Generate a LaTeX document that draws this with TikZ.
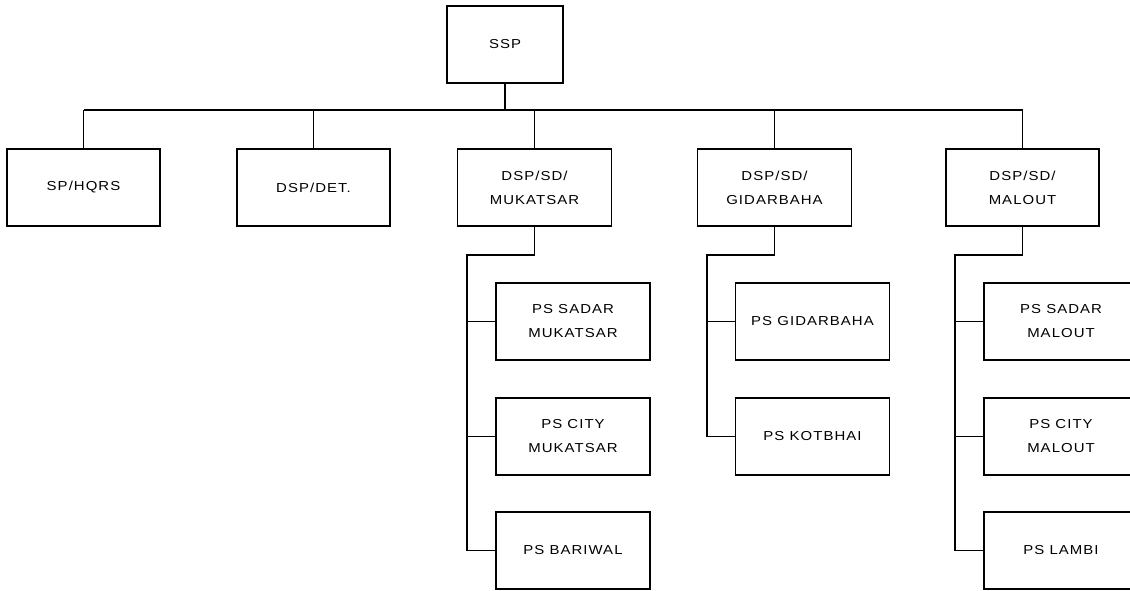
\documentclass[tikz,border=0pt]{standalone}
\usepackage{fontspec}
\setmainfont{Liberation Sans}[FakeStretch=1.15,LetterSpace=8]
\begin{document}
\begin{tikzpicture}[x=1pt,y=-1pt,
  box/.style={draw=black,line width=1.1pt,rectangle,minimum width=154pt,minimum height=77pt,
    align=center,inner sep=0pt,font=\fontsize{13}{24}\selectfont,text=black},
  conn/.style={draw=black,line width=1.1pt}]
\useasboundingbox (0,0) rectangle (1130,591);
\clip (0,0) rectangle (1130,591);
\node[box,minimum width=116pt] (ssp) at (505,44.5) {SSP};
\node[box,minimum width=153pt] (hq) at (83.5,187.5) {SP/HQRS};
\node[box,minimum width=153pt] (det) at (313.5,187.5) {DSP/DET.};
\node[box] (muk) at (534.5,187.5) {DSP/SD/\\MUKATSAR};
\node[box] (gid) at (774.5,187.5) {DSP/SD/\\GIDARBAHA};
\node[box,minimum width=153pt] (mal) at (1022.5,187.5) {DSP/SD/\\MALOUT};
\node[box] (muk1) at (573,321.5) {PS SADAR\\MUKATSAR};
\node[box] (muk2) at (573,436.5) {PS CITY\\MUKATSAR};
\node[box] (muk3) at (573,550.5) {PS BARIWAL};
\node[box] (gid1) at (812.5,321.5) {PS GIDARBAHA};
\node[box] (gid2) at (812.5,436.5) {PS KOTBHAI};
\node[box] (mal1) at (1061,321.5) {PS SADAR\\MALOUT};
\node[box] (mal2) at (1061,436.5) {PS CITY\\MALOUT};
\node[box] (mal3) at (1061,550.5) {PS LAMBI};
\coordinate (busL) at (84,110);
\coordinate (busR) at (1023,110);
\coordinate (mukT) at (467,255);
\coordinate (gidT) at (707,255);
\coordinate (malT) at (955,255);
\draw[conn] (busL) -- (busR);
\draw[conn] (ssp.south) -- (ssp.south |- busL);
\foreach \n in {hq,det,muk,gid,mal}{\draw[conn] (\n.north) -- (\n.north |- busL);}
\draw[conn] (muk.south) |- (mukT) -- (mukT |- muk3.west) -- (muk3.west);
\draw[conn] (mukT |- muk1.west) -- (muk1.west);
\draw[conn] (mukT |- muk2.west) -- (muk2.west);
\draw[conn] (gid.south) |- (gidT) -- (gidT |- gid2.west) -- (gid2.west);
\draw[conn] (gidT |- gid1.west) -- (gid1.west);
\draw[conn] (mal.south) |- (malT) -- (malT |- mal3.west) -- (mal3.west);
\draw[conn] (malT |- mal1.west) -- (mal1.west);
\draw[conn] (malT |- mal2.west) -- (mal2.west);
\end{tikzpicture}
\end{document}
